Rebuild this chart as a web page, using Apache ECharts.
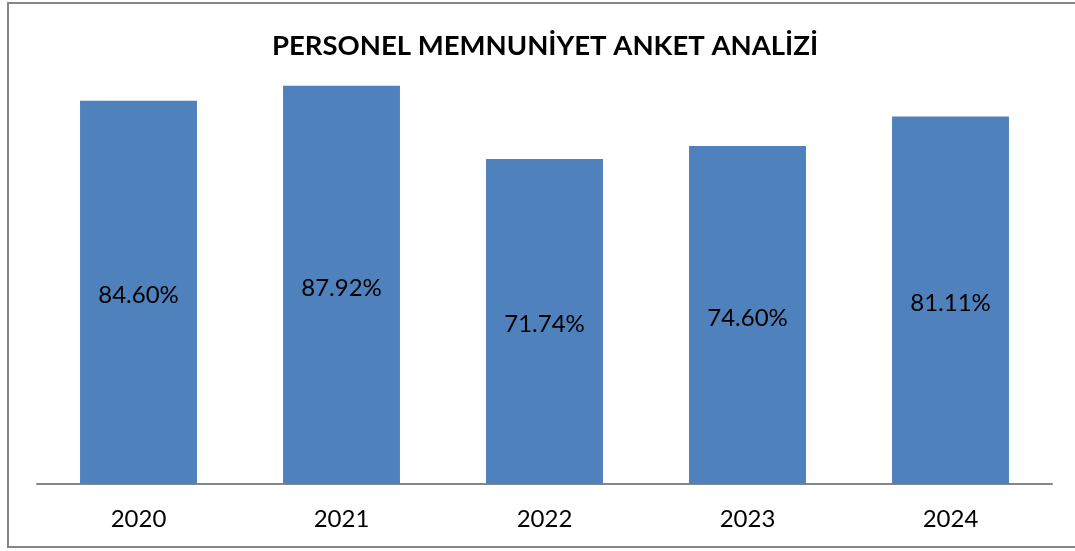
<!DOCTYPE html>
<html>
<head>
<meta charset="utf-8">
<script src="https://cdn.jsdelivr.net/npm/echarts@6/dist/echarts.min.js"></script>
<style>
  html, body { margin: 0; padding: 0; background: #fff; }
  #frame {
    position: absolute;
    left: 7px;
    top: 2px;
    width: 1080px;
    height: 546px;
    border: 2px solid #868686;
    box-sizing: border-box;
  }
  #survey-chart {
    position: absolute;
    left: 0;
    top: 0;
    width: 1075px;
    height: 551px;
  }
</style>
</head>
<body>
<div id="frame"></div>
<div id="survey-chart"></div>
<script>
const years = ['2020', '2021', '2022', '2023', '2024']
const satisfaction = [84.60, 87.92, 71.74, 74.60, 81.11]

const chart = echarts.init(document.getElementById('survey-chart'))
chart.setOption({
  animation: false,
  title: {
    text: 'PERSONEL MEMNUNİYET ANKET ANALİZİ',
    left: 540,
    textAlign: 'center',
    top: 27,
    textStyle: {
      fontFamily: 'Lato',
      fontWeight: 'bold',
      fontSize: 27.5,
      color: '#000'
    }
  },
  grid: {
    left: 37,
    right: 23,
    top: 31,
    bottom: 67
  },
  xAxis: {
    type: 'category',
    data: years,
    axisTick: { show: false },
    axisLine: { lineStyle: { color: '#868686', width: 2 } },
    axisLabel: {
      color: '#000',
      fontFamily: 'Lato',
      fontSize: 24,
      margin: 23
    }
  },
  yAxis: {
    type: 'value',
    min: 0,
    max: 100,
    show: false,
    splitLine: { show: false }
  },
  series: [
    {
      type: 'bar',
      data: satisfaction,
      barWidth: '57.6%',
      itemStyle: { color: '#4F81BD' },
      label: {
        show: true,
        position: 'inside',
        offset: [0, 3],
        color: '#000',
        fontFamily: 'Lato',
        fontSize: 24,
        formatter: p => p.value.toFixed(2) + '%'
      }
    }
  ]
})
</script>
</body>
</html>
